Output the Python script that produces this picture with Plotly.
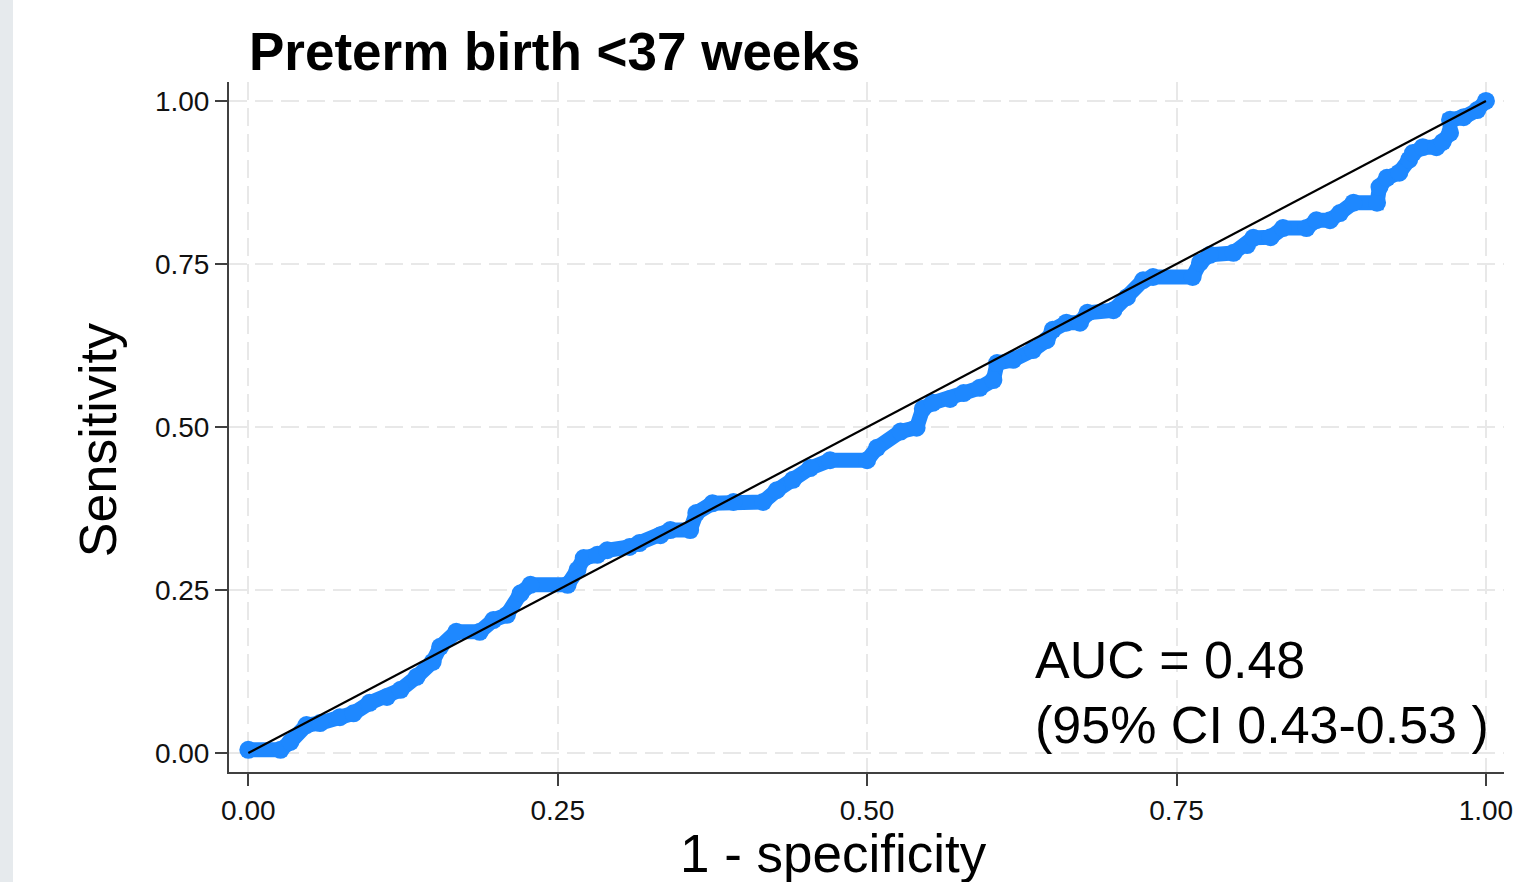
import plotly.graph_objects as go

# ROC curve points (1 - specificity, sensitivity)
fpr = [0.000, 0.026, 0.034, 0.047, 0.058, 0.074, 0.085, 0.098, 0.112, 0.123,
       0.136, 0.149, 0.155, 0.168, 0.187, 0.198, 0.209, 0.220, 0.228, 0.258,
       0.266, 0.271, 0.282, 0.290, 0.308, 0.316, 0.333, 0.341, 0.357, 0.362,
       0.375, 0.392, 0.416, 0.427, 0.440, 0.454, 0.470, 0.500, 0.508, 0.527,
       0.540, 0.545, 0.553, 0.567, 0.578, 0.591, 0.602, 0.605, 0.618, 0.634,
       0.645, 0.650, 0.661, 0.672, 0.678, 0.699, 0.710, 0.723, 0.731, 0.763,
       0.769, 0.777, 0.796, 0.807, 0.812, 0.826, 0.836, 0.855, 0.863, 0.874,
       0.882, 0.893, 0.912, 0.914, 0.920, 0.930, 0.938, 0.941, 0.949, 0.960,
       0.965, 0.971, 0.971, 0.982, 0.993, 1.000]
sens = [0.005, 0.005, 0.017, 0.043, 0.046, 0.055, 0.061, 0.077, 0.086, 0.097,
        0.117, 0.140, 0.163, 0.186, 0.186, 0.204, 0.212, 0.245, 0.258, 0.258,
        0.281, 0.299, 0.304, 0.311, 0.316, 0.322, 0.334, 0.342, 0.342, 0.368,
        0.383, 0.385, 0.385, 0.403, 0.419, 0.437, 0.449, 0.449, 0.468, 0.493,
        0.499, 0.528, 0.537, 0.543, 0.552, 0.560, 0.572, 0.598, 0.603, 0.618,
        0.633, 0.649, 0.660, 0.660, 0.675, 0.679, 0.699, 0.725, 0.730, 0.730,
        0.752, 0.764, 0.767, 0.779, 0.790, 0.791, 0.805, 0.805, 0.817, 0.817,
        0.828, 0.844, 0.844, 0.868, 0.882, 0.890, 0.910, 0.920, 0.929, 0.929,
        0.937, 0.951, 0.971, 0.975, 0.986, 1.000]

ref_x = [0, 1]
ref_y = [0, 1]

tick_vals = [0, 0.25, 0.5, 0.75, 1.0]
tick_text = ["0.00", "0.25", "0.50", "0.75", "1.00"]

title_text = "<b>Preterm birth <37 weeks</b>"
x_title = "1 - specificity"
y_title = "Sensitivity"
auc_line1 = "AUC = 0.48"
auc_line2 = "(95% CI 0.43-0.53 )"

FONT = "Liberation Sans, Arial, Helvetica, sans-serif"
BLUE = "#1E88FF"

fig = go.Figure()
fig.add_trace(go.Scatter(
    x=fpr, y=sens, mode="lines+markers",
    line=dict(color=BLUE, width=15),
    marker=dict(color=BLUE, size=18),
    showlegend=False, hoverinfo="skip"))
fig.add_trace(go.Scatter(
    x=ref_x, y=ref_y, mode="lines",
    line=dict(color="black", width=2.2),
    showlegend=False, hoverinfo="skip"))

axis_common = dict(
    showgrid=True, gridcolor="#E8E8E8", gridwidth=2, griddash="18px,8px",
    zeroline=False, showline=True, linecolor="#404040", linewidth=2,
    ticks="outside", ticklen=12, tickwidth=2, tickcolor="#404040",
    tickvals=tick_vals, ticktext=tick_text,
    tickfont=dict(family=FONT, size=28, color="#111111"),
    mirror=False, automargin=False,
)

fig.update_layout(
    width=1518, height=882, autosize=False,
    paper_bgcolor="white", plot_bgcolor="white",
    margin=dict(l=229, r=14, t=82, b=110),
    xaxis=dict(range=[-0.0156, 1.0146], **axis_common),
    yaxis=dict(range=[-0.029, 1.029], **axis_common),
    font=dict(family=FONT, color="black"),
    shapes=[dict(type="rect", xref="paper", yref="paper",
                 x0=-0.1796, x1=-0.1694, y0=-0.2, y1=1.2,
                 fillcolor="#E6EAED", line=dict(width=0), layer="below")],
    annotations=[
        dict(text=title_text, xref="paper", yref="paper", x=0.0141, y=1.0435,
             xanchor="left", yanchor="middle", showarrow=False,
             font=dict(family=FONT, size=53, color="black")),
        dict(text=y_title, xref="paper", yref="paper", x=-0.1027, y=0.481,
             xanchor="center", yanchor="middle", textangle=-90, showarrow=False,
             font=dict(family=FONT, size=52, color="black")),
        dict(text=x_title, xref="paper", yref="paper", x=0.4741, y=-0.118,
             xanchor="center", yanchor="middle", showarrow=False,
             font=dict(family=FONT, size=53, color="black")),
        dict(text=auc_line1, xref="x", yref="y", x=0.634, y=0.1426,
             xanchor="left", yanchor="middle", showarrow=False,
             font=dict(family=FONT, size=52, color="black")),
        dict(text=auc_line2, xref="x", yref="y", x=0.634, y=0.043,
             xanchor="left", yanchor="middle", showarrow=False,
             font=dict(family=FONT, size=52, color="black")),
    ],
)

fig.write_html(
    "out.html",
    config={"displayModeBar": False, "responsive": False},
    post_script="document.body.style.margin='0';document.body.style.overflow='hidden';",
)
